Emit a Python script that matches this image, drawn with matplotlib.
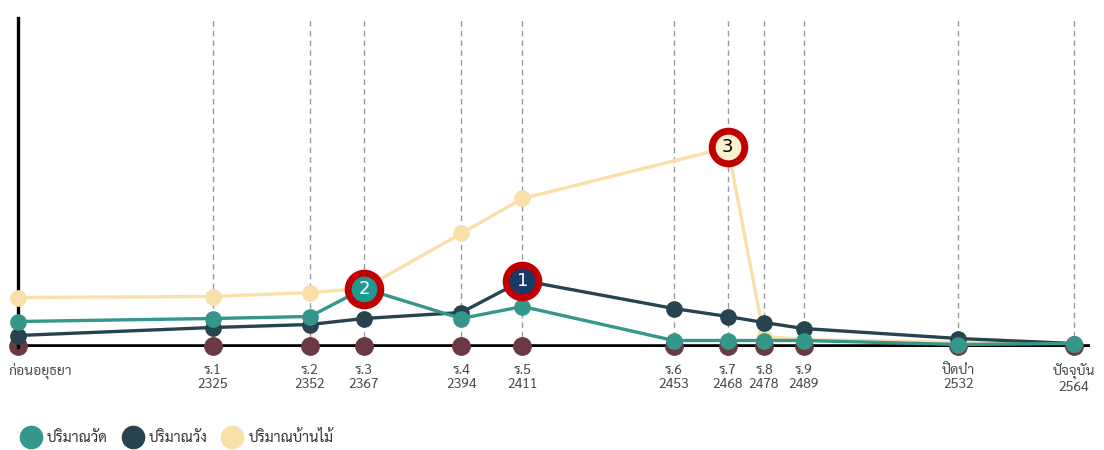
import numpy as np
import matplotlib
matplotlib.use('Agg')
import matplotlib.pyplot as plt
import matplotlib.transforms as mtransforms
from matplotlib.lines import Line2D

plt.rcParams['font.family'] = ['Sarabun', 'Anuphan', 'DejaVu Sans']

# Data (x = year B.E.; the pre-Ayutthaya point sits at the far left)
years = [2271, 2325, 2352, 2367, 2394, 2411, 2453, 2468, 2478, 2489, 2532, 2564]
reigns = ['ก่อนอยุธยา', 'ร.1', 'ร.2', 'ร.3', 'ร.4', 'ร.5', 'ร.6', 'ร.7', 'ร.8', 'ร.9', 'ปิดป่า', 'ปัจจุบัน']
year_labels = ['', '2325', '2352', '2367', '2394', '2411', '2453', '2468', '2478', '2489', '2532', '2564']
wat = [24, 27, 29, 57, 27, 39, 5, 5, 5, 5, 1, 2]              # ปริมาณวัด
wang = [10, 18, 21, 27, 33, 65, 37, 29, 23, 17, 7, 2]         # ปริมาณวัง
banmai = [48, 49, 53, 57, 112, 147, np.nan, 198, 9, 6, 3, 2]  # ปริมาณบ้านไม้
base = [0] * len(years)

# badges: (series, point index, number)
badges = [('wang', 5, '1'), ('wat', 3, '2'), ('banmai', 7, '3')]

TEAL = '#35968a'
DARK = '#26434f'
CREAM = '#f9dfa8'
MAROON = '#6b3944'
RED = '#c00000'

fig = plt.figure(figsize=(11.04, 4.5), dpi=100)
ax = fig.add_axes([18/1104, 103/450, 1072/1104, 329/450])
ax.set_xlim(2271.3, 2568.5)
ax.set_ylim(-1.5, 327.5)

for x in years[1:]:
    ax.axvline(x, color='#9a9a9a', lw=1, ls=(0, (4, 3)), zorder=0)

ax.axhline(0, color='black', lw=2.6, zorder=1)
for s in ['top', 'right', 'bottom']:
    ax.spines[s].set_visible(False)
ax.spines['left'].set_linewidth(2.4)
ax.spines['left'].set_color('black')
ax.set_yticks([])

ax.plot(years, base, 'o', color=MAROON, ms=12.5, zorder=2, clip_on=False)

yb = np.array(banmai, dtype=float)
mask = ~np.isnan(yb)
ax.plot(np.array(years)[mask], yb[mask], '-o', color=CREAM, lw=2.4, ms=11, zorder=3, clip_on=False)
ax.plot(years, wang, '-o', color=DARK, lw=2.4, ms=11, zorder=4, clip_on=False)
ax.plot(years, wat, '-o', color=TEAL, lw=2.4, ms=11, zorder=5, clip_on=False)

series = {'wat': (wat, '#1f9990', 'white'), 'wang': (wang, '#173a68', 'white'),
          'banmai': (banmai, '#fdf0cf', 'black')}
for key, i, num in badges:
    vals, fill, tc = series[key]
    ax.plot(years[i], vals[i], 'o', ms=27.5, color=RED, zorder=6, clip_on=False)
    ax.plot(years[i], vals[i], 'o', ms=17.5, color=fill, zorder=7, clip_on=False)
    ax.text(years[i], vals[i], num, color=tc, fontsize=13, ha='center', va='center', zorder=8,
            family='DejaVu Sans')

# x labels
ax.set_xticks(years)
ax.set_xticklabels([r if y == '' else r + '\n' + y for r, y in zip(reigns, year_labels)],
                   fontsize=10, color='#4a4a4a', linespacing=1.1)
ax.tick_params(axis='x', length=0, pad=12)
lab0 = ax.get_xticklabels()[0]
lab0.set_ha('left')
lab0.set_transform(lab0.get_transform() + mtransforms.ScaledTranslation(-10/100, 0, fig.dpi_scale_trans))

# legend
handles = [Line2D([], [], ls='', marker='o', ms=16, color=c) for c in (TEAL, DARK, CREAM)]
fig.legend(handles, ['ปริมาณวัด', 'ปริมาณวัง', 'ปริมาณบ้านไม้'], loc='lower left',
           bbox_to_anchor=(0.003, -0.019), ncol=3, frameon=False, fontsize=10.5,
           handletextpad=0.1, columnspacing=0.7, labelcolor='#333333')

fig.savefig('out.png', dpi=100)
